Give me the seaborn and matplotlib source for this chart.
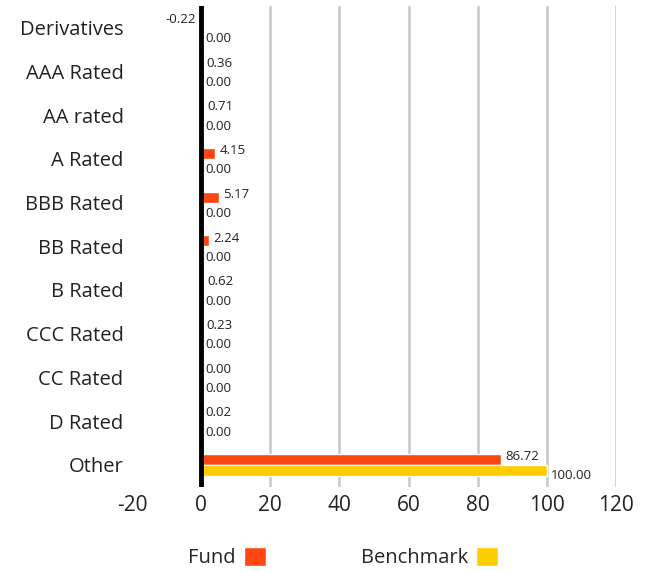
import numpy as np
import pandas as pd
import seaborn as sns
import matplotlib.pyplot as plt
from matplotlib.patches import Patch

categories = ['Derivatives', 'AAA Rated', 'AA rated', 'A Rated', 'BBB Rated', 'BB Rated',
              'B Rated', 'CCC Rated', 'CC Rated', 'D Rated', 'Other']
fund = [-0.22, 0.36, 0.71, 4.15, 5.17, 2.24, 0.62, 0.23, 0.00, 0.02, 86.72]
benchmark = [0.00, 0.00, 0.00, 0.00, 0.00, 0.00, 0.00, 0.00, 0.00, 0.00, 100.00]
series = ['Fund', 'Benchmark']
colors = ['#FF4713', '#FFCE00']

df = pd.DataFrame({'Rating': categories * 2,
                   'Weight': fund + benchmark,
                   'Series': ['Fund'] * len(fund) + ['Benchmark'] * len(benchmark)})

sns.set_style('white')
plt.rcParams['font.family'] = ['Open Sans', 'DejaVu Sans']
plt.rcParams['axes.unicode_minus'] = False

fig = plt.figure(figsize=(6.5, 5.72), dpi=100)
ax = fig.add_axes([0.203, 0.149, 0.745, 0.841])

sns.barplot(data=df, y='Rating', x='Weight', hue='Series', order=categories,
            hue_order=series, palette=colors, orient='h', width=0.5,
            saturation=1, legend=False, ax=ax)

# data labels
for i, cont in enumerate(ax.containers):
    anns = ax.bar_label(cont, fmt='%.2f', padding=3, fontsize=9.5, color='#222222')
    for a in anns:
        x, y = a.xyann
        a.xyann = (x, y + (2 if i == 0 else -4))

ax.set_xlim(-20, 120)
ax.set_xticks(np.arange(-20, 121, 20))
ax.xaxis.grid(True, color='#c8c8c8', linewidth=1.8)
ax.set_axisbelow(True)
ax.axvline(0, color='black', linewidth=3.5, zorder=5)
for s in ax.spines.values():
    s.set_visible(False)
ax.tick_params(axis='x', labelsize=15, length=0, pad=6, colors='#222222')
ax.tick_params(axis='y', labelsize=14.5, length=0, pad=6, colors='#222222')
ax.set_xlabel('')
ax.set_ylabel('')

# gridline at -20 hidden
ax.get_xgridlines()[0].set_visible(False)

handles = [Patch(facecolor=c, label=s) for s, c in zip(series, colors)]
fig.legend(handles=handles, loc='lower left', bbox_to_anchor=(0.262, -0.025), ncol=2,
           frameon=False, markerfirst=False, handlelength=1.1, handleheight=1.1,
           columnspacing=4.7, handletextpad=0.4, fontsize=14.5)

fig.savefig('out.png', dpi=100)
